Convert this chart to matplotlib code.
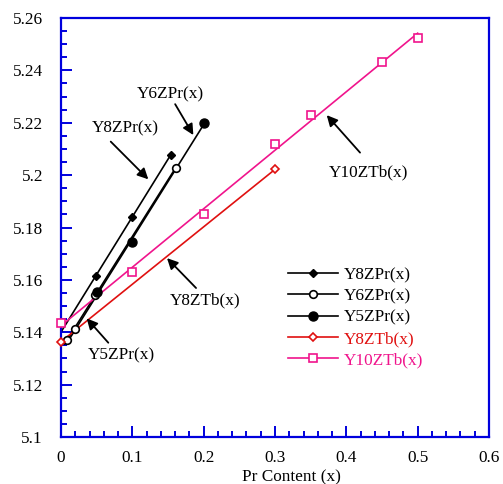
import numpy as np
import matplotlib

matplotlib.use("Agg")

import matplotlib.pyplot as plt
from matplotlib.lines import Line2D

# ====
# DATA
# ====
y8zpr_x = [0.049, 0.099, 0.154]
y8zpr_y = [5.1615, 5.1839, 5.2077]
y8zpr_fit = [0.0, 0.154]

y6zpr_x = [0.009, 0.019, 0.047, 0.161]
y6zpr_y = [5.1370, 5.1414, 5.1542, 5.2028]
y6zpr_fit = [0.005, 0.161]

y5zpr_x = [0.051, 0.100, 0.200]
y5zpr_y = [5.1555, 5.1743, 5.2198]
y5zpr_fit = [0.01, 0.200]

y8ztb_x = [0.0, 0.3]
y8ztb_y = [5.1364, 5.2022]

y10ztb_x = [0.0, 0.1, 0.2, 0.3, 0.35, 0.45, 0.5]
y10ztb_y = [5.1436, 5.1630, 5.1850, 5.2119, 5.2229, 5.2433, 5.2522]
y10ztb_fit = [0.0, 0.5]

x_ticks = [0, 0.1, 0.2, 0.3, 0.4, 0.5, 0.6]
x_tick_labels = ["0", "0.1", "0.2", "0.3", "0.4", "0.5", "0.6"]
y_ticks = [5.1, 5.12, 5.14, 5.16, 5.18, 5.2, 5.22, 5.24, 5.26]
y_tick_labels = ["5.1", "5.12", "5.14", "5.16", "5.18", "5.2", "5.22", "5.24", "5.26"]

# ======
# STYLES
# ======
BLUE = "#0000dd"
RED = "#e01010"
PINK = "#f0148c"
FS = 12.4

plt.rcParams["font.family"] = ["Liberation Serif", "DejaVu Serif"]
plt.rcParams["font.size"] = FS

fig = plt.figure(figsize=(5.03, 4.84), dpi=100)
ax = fig.add_axes([0.1213, 0.0971, 0.8509, 0.8657])


def fit_line(xs, ys, span):
    k, b = np.polyfit(xs, ys, 1)
    xx = np.array(span)
    return xx, k * xx + b


# fit lines
for xs, ys, span, col in [
    (y8zpr_x, y8zpr_y, y8zpr_fit, "k"),
    (y6zpr_x, y6zpr_y, y6zpr_fit, "k"),
    (y5zpr_x, y5zpr_y, y5zpr_fit, "k"),
    (y10ztb_x, y10ztb_y, y10ztb_fit, PINK),
]:
    fx, fy = fit_line(xs, ys, span)
    ax.plot(fx, fy, color=col, lw=1.2, zorder=2)

ax.plot(y8ztb_x, y8ztb_y, color=RED, lw=1.2, zorder=2)

# markers (not clipped at the axis edge)
ax.plot(y8zpr_x, y8zpr_y, "D", color="k", ms=4.5, ls="none", zorder=3, clip_on=False)
ax.plot(y6zpr_x, y6zpr_y, "o", mfc="white", mec="k", mew=1.2, ms=5.5, ls="none", zorder=3, clip_on=False)
ax.plot(y5zpr_x, y5zpr_y, "o", color="k", ms=6.5, ls="none", zorder=3, clip_on=False)
ax.plot(y8ztb_x, y8ztb_y, "D", mfc="white", mec=RED, mew=1.2, ms=4.5, ls="none", zorder=4, clip_on=False)
ax.plot(y10ztb_x, y10ztb_y, "s", mfc="white", mec=PINK, mew=1.2, ms=5.5, ls="none", zorder=4, clip_on=False)

# annotations with arrows
arrow = dict(arrowstyle="-|>", color="k", lw=1.3, mutation_scale=16, shrinkA=0, shrinkB=0)
notes = [
    ("Y6ZPr(x)", (0.153, 5.231), (0.160, 5.2271), (0.1855, 5.2153)),
    ("Y8ZPr(x)", (0.0897, 5.218), (0.0697, 5.2128), (0.1224, 5.1984)),
    ("Y10ZTb(x)", (0.4318, 5.2012), (0.4192, 5.2086), (0.3725, 5.2229)),
    ("Y8ZTb(x)", (0.2019, 5.1523), (0.1893, 5.1569), (0.1486, 5.1683)),
    ("Y5ZPr(x)", (0.0841, 5.1313), (0.0663, 5.1360), (0.0360, 5.1453)),
]
for txt, tpos, tail, head in notes:
    ax.text(tpos[0], tpos[1], txt, ha="center", va="center", fontsize=FS)
    ax.annotate("", xy=head, xytext=tail, arrowprops=arrow)

# axes
ax.set_xlim(0, 0.6)
ax.set_ylim(5.1, 5.26)
ax.set_xticks(x_ticks)
ax.set_xticklabels(x_tick_labels)
ax.set_yticks(y_ticks)
ax.set_yticklabels(y_tick_labels)
ax.set_xticks(np.arange(0, 0.6001, 0.02), minor=True)
ax.set_yticks(np.arange(5.1, 5.2601, 0.005), minor=True)
for sp in ax.spines.values():
    sp.set_color(BLUE)
    sp.set_linewidth(1.6)
ax.tick_params(which="both", direction="in", color=BLUE, width=1.4, top=False, right=False)
ax.tick_params(which="major", length=8)
ax.tick_params(which="minor", length=4.5)
ax.tick_params(axis="y", pad=13)
ax.tick_params(axis="x", pad=9)

ax.text((291.7 - 61) / 428, (437 - 477) / 419, "Pr Content (x)", transform=ax.transAxes,
        ha="center", va="center", fontsize=FS)

# legend
handles = [
    Line2D([], [], color="k", lw=1.2, marker="D", ms=4.5),
    Line2D([], [], color="k", lw=1.2, marker="o", mfc="white", mew=1.2, ms=5.5),
    Line2D([], [], color="k", lw=1.2, marker="o", ms=6.5),
    Line2D([], [], color=RED, lw=1.2, marker="D", mfc="white", mew=1.2, ms=4.5),
    Line2D([], [], color=PINK, lw=1.2, marker="s", mfc="white", mew=1.2, ms=5.5),
]
labels = ["Y8ZPr(x)", "Y6ZPr(x)", "Y5ZPr(x)", "Y8ZTb(x)", "Y10ZTb(x)"]
leg = ax.legend(handles, labels, loc="upper left", bbox_to_anchor=((283 - 61) / 428, 1 - (262 - 18) / 419),
                frameon=False, numpoints=1, handlelength=2.9, handletextpad=0.35,
                labelspacing=0.3, borderaxespad=0, borderpad=0.3, fontsize=FS)
for t, c in zip(leg.get_texts(), ["k", "k", "k", RED, PINK]):
    t.set_color(c)

fig.savefig("out.png", dpi=100)
